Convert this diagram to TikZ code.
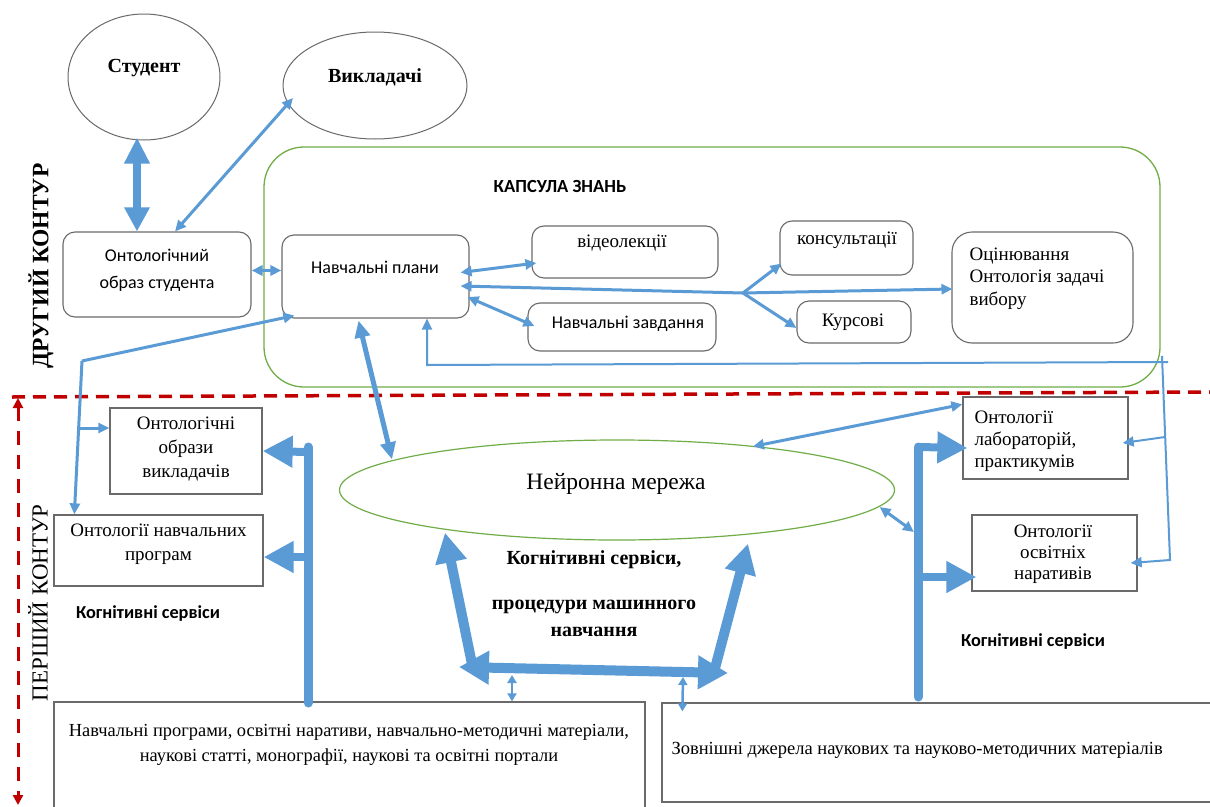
\documentclass[tikz,border=0pt]{standalone}
\usepackage{fontspec}
\setmainfont{Liberation Serif}
\newfontfamily\calfont{Carlito}
\usetikzlibrary{arrows.meta,shapes.geometric,calc}
\definecolor{bl}{HTML}{5B9BD5}
\definecolor{gr}{HTML}{70AD47}
\definecolor{bx}{HTML}{6A6A6A}
\definecolor{rd}{HTML}{C00000}
\tikzset{
  sans/.style={font=\calfont\fontsize{18}{27}\selectfont},
  sansb/.style={font=\calfont\bfseries\fontsize{18.3}{20}\selectfont},
  serif/.style={font=\fontsize{19}{24}\selectfont},
  serifb/.style={font=\bfseries\fontsize{20}{22}\selectfont},
  rbox/.style={draw=bx, line width=1.1pt, rounded corners=12pt},
  sbox/.style={draw=bx, line width=1.3pt},
  ell/.style={ellipse, draw=bx, line width=1pt},
  conn/.style={draw=bl, line width=3pt},
  fbline/.style={draw=bl, line width=2pt},
  hd/.style={-{Triangle[length=11pt,width=10pt]}},
  hdd/.style={{Triangle[length=11pt,width=10pt]}-{Triangle[length=11pt,width=10pt]}},
  hds/.style={{Triangle[length=11pt,width=10pt]}-},
  bighd/.style={-{Triangle[length=30pt,width=30pt]}},
  bighdd/.style={{Triangle[length=30pt,width=32pt]}-{Triangle[length=30pt,width=32pt]}},
}
\begin{document}
\begin{tikzpicture}[x=1pt,y=-1pt]
\useasboundingbox (0,0) rectangle (1210,806);
\clip (0,0) rectangle (1210,806);
\fill[white] (0,0) rectangle (1210,806);

% ---------- top ellipses
\node[ell, minimum width=152pt, minimum height=126pt] (stud) at (144,77) {};
\node[serifb] (studt) at (144,68) {Студент};
\node[ell, minimum width=184pt, minimum height=107pt] (vykl) at (375,85.5) {};
\node[serifb] (vyklt) at (375,77) {Викладачі};

% ---------- student image
\node[rbox, minimum width=188pt, minimum height=85pt] (obraz) at (157,274.5) {};
\node[sans, align=center] (obrazt) at (157,270) {Онтологічний\\образ студента};

% ---------- capsule
\node[draw=gr, line width=1.3pt, rounded corners=40pt, minimum width=896pt, minimum height=240pt] (caps) at (712,267) {};
\node[font=\calfont\bfseries\fontsize{18.5}{20}\selectfont] (capst) at (560,186) {КАПСУЛА ЗНАНЬ};

\node[rbox, minimum width=187pt, minimum height=83pt] (nplan) at (375.5,276.5) {};
\node[sans] (nplant) at (375,267) {Навчальні плани};
\node[rbox, minimum width=186pt, minimum height=52pt] (video) at (625,252) {};
\node[serif] (videot) at (622,243) {відеолекції};
\node[rbox, minimum width=188pt, minimum height=48pt] (zavd) at (622,327) {};
\node[font=\calfont\fontsize{18}{20}\selectfont] (zavdt) at (628,324) {Навчальні завдання};
\node[rbox, minimum width=133pt, minimum height=54pt] (kons) at (846.5,248) {};
\node[serif] (konst) at (847,240) {консультації};
\node[rbox, minimum width=114pt, minimum height=42pt] (kurs) at (854,322) {};
\node[serif] (kurst) at (853,322) {Курсові};
\node[rbox, rounded corners=20pt, minimum width=181pt, minimum height=111pt] (ocin) at (1042.5,287.5) {};
\node[align=left, anchor=north west, font=\fontsize{19}{22.5}\selectfont] (ocint) at (966,244) {Оцінювання\\Онтологія задачі\\вибору};

% ---------- contour labels
\node[rotate=90, font=\bfseries\fontsize{23.5}{25}\selectfont] (k2) at (41,266) {ДРУГИЙ КОНТУР};
\node[rotate=90, font=\fontsize{23}{25}\selectfont] (k1) at (38,603) {ПЕРШИЙ КОНТУР};

% ---------- red dashed
\coordinate (rl) at (12,397);
\coordinate (rr) at (1212,392);
\draw[rd, line width=3.5pt, dash pattern=on 13pt off 8pt] (rl) -- (rr);
\coordinate (rv1) at (18,398);
\coordinate (rv2) at (18,805);
\draw[rd, line width=3pt, dash pattern=on 14pt off 10pt, {Triangle[length=10pt,width=10pt]}-{Triangle[length=10pt,width=10pt]}] (rv1) -- (rv2);

% ---------- lower boxes
\node[sbox, minimum width=152pt, minimum height=86pt] (obrv) at (186,451) {};
\node[serif, align=center] (obrvt) at (186,449) {Онтологічні\\образи\\викладачів};
\node[sbox, minimum width=209pt, minimum height=71pt] (onp) at (158.5,550.5) {};
\node[serif, align=center] (onpt) at (158.5,544) {Онтології навчальних\\програм};
\node[sansb] (kog1) at (148,614) {Когнітивні сервіси};

\node[ellipse, draw=gr, line width=1.2pt, minimum width=555pt, minimum height=100pt] (neuro) at (617,490) {};
\node[font=\fontsize{23.5}{26}\selectfont] (neurot) at (616,484) {Нейронна мережа};
\node[font=\bfseries\fontsize{20}{22}\selectfont] (kog2a) at (594,560) {Когнітивні сервіси,};
\node[font=\bfseries\fontsize{20}{27}\selectfont, align=center] (kog2b) at (594,618) {процедури машинного\\навчання};

\node[sbox, minimum width=165pt, minimum height=82pt] (labs) at (1045.5,438) {};
\node[align=left, anchor=north west, font=\fontsize{19}{22}\selectfont] (labst) at (971,407) {Онтології\\лабораторій,\\практикумів};
\node[sbox, minimum width=165pt, minimum height=76pt] (nar) at (1054.5,553) {};
\node[align=center, font=\fontsize{19}{21}\selectfont] (nart) at (1053,554) {Онтології\\освітніх\\наративів};
\node[sansb] (kog3) at (1033,642) {Когнітивні сервіси};

\node[sbox, minimum width=591pt, minimum height=110pt] (lbox) at (349.5,757) {};
\node[align=center, font=\fontsize{18.4}{25}\selectfont] (lboxt) at (349,745) {Навчальні програми, освітні наративи, навчально-методичні матеріали,\\наукові статті, монографії, наукові та освітні портали};
\node[sbox, minimum width=553pt, minimum height=99pt] (rbox) at (938.5,752.5) {};
\node[anchor=west, font=\fontsize{18.5}{22}\selectfont] (rboxt) at (668,750) {Зовнішні джерела наукових та науково-методичних матеріалів};

% ---------- connectors top
\draw[draw=bl, line width=8pt, {Triangle[length=26pt,width=24pt]}-{Triangle[length=24pt,width=24pt]}] ($(stud.south)+(-7,-3)$) -- ($(obraz.north)+(-20,0)$);
\draw[conn, hdd] ($(vykl.center)+(-82,12.5)$) -- ($(obraz.north)+(18,0)$);
\draw[conn, hdd] ($(obraz.east)+(0,-4)$) -- ($(nplan.west)+(0,-6)$);
\coordinate (lc) at (82,361);
\coordinate (lb) at (78,428);
\draw[conn, hd] (lc) -- ($(nplan.south west)+(13,-3)$);
\draw[conn, hd] (lc) -- ($(onp.north west)+(21,0)$);
\draw[conn, hd] (lb) -- ($(obrv.west)+(0,-23)$);
\draw[draw=bl, line width=5pt, {Triangle[length=17pt,width=15pt]}-{Triangle[length=17pt,width=15pt]}] ($(nplan.south)+(-17,2)$) -- ($(neuro.north)+(-225,20)$);

% capsule arrows
\draw[conn, hdd] ($(nplan.east)+(-9,-4)$) -- ($(video.west)+(5,11)$);
\coordinate (br) at (743,293);
\draw[conn, hds] ($(nplan.east)+(-9,9.5)$) -- (br);
\draw[conn, hd] (br) -- ($(kons.south west)+(2,-12)$);
\draw[conn, hd] (br) -- ($(kurs.west)+(0,6)$);
\draw[conn, hd] (br) -- ($(ocin.west)+(1,1.5)$);
\draw[conn, hdd] ($(nplan.east)+(-2,20.5)$) -- ($(zavd.west)+(7,-1)$);

% feedback thin line
\coordinate (fb1) at (1168,362);
\coordinate (fb2) at (427,365);
\draw[fbline, -{Triangle[length=11pt,width=10pt]}] (fb1) -- (fb2) -- ($(nplan.south)+(51.5,0)$);
\coordinate (fb3) at (1162,356);
\coordinate (fb4) at (1170,560);
\coordinate (fb5) at (1165,437);
\draw[fbline, -{Triangle[length=11pt,width=10pt]}] (fb3) -- (fb4) -- ($(nar.east)+(-7,10)$);
\draw[fbline, -{Triangle[length=11pt,width=10pt]}] (fb5) -- ($(labs.east)+(-6,5)$);

% ---------- thick left trunk
\coordinate (lv1) at (308,447);
\coordinate (lv2) at (308,703);
\draw[bl, line width=9pt, line cap=round] (lv1) -- (lv2);
\draw[bl, line width=8pt, bighd] (308,452) -- (obrv.east);
\draw[bl, line width=8pt, bighd] (308,557) -- ($(onp.east)+(0,6.5)$);

% ---------- thick right trunk
\coordinate (rt1) at (918,447);
\coordinate (rt2) at (918,697);
\draw[bl, line width=9pt, line cap=round] (rt1) -- (rt2);
\draw[bl, line width=8pt, bighd] (rt1) -- ($(labs.west)+(5,10)$);
\draw[bl, line width=8pt, bighd] (918,577) -- ($(nar.west)+(5,24)$);
\coordinate (rtm) at (914,532);
\draw[conn, hdd] ($(neuro.east)+(-15.5,17)$) -- (rtm);
\draw[conn, hdd] ($(neuro.north)+(136,7)$) -- ($(labs.north west)+(0,8)$);

% ---------- U shaped thick arrows
\coordinate (uhl) at (459,667);
\coordinate (uhr) at (728,673);
\coordinate (ul) at (472,664);
\coordinate (ur) at (714,672);
\draw[bl, line width=10pt, bighdd] (uhl) -- (uhr);
\draw[bl, line width=10pt, bighd] (ul) -- ($(neuro.south)+(-172,-8)$);
\draw[bl, line width=10pt, bighd] (ur) -- ($(neuro.south)+(131,3)$);

% small thin double arrows
\coordinate (s1) at (512,675);
\coordinate (s2) at (683,677);
\draw[bl, line width=2.5pt, {Triangle[length=8pt,width=9pt]}-{Triangle[length=8pt,width=9pt]}] (s1) -- ($(lbox.north)+(162.5,0)$);
\draw[bl, line width=2.5pt, {Triangle[length=8pt,width=9pt]}-{Triangle[length=8pt,width=9pt]}] (s2) -- ($(rbox.north west)+(21,9)$);
\end{tikzpicture}
\end{document}
